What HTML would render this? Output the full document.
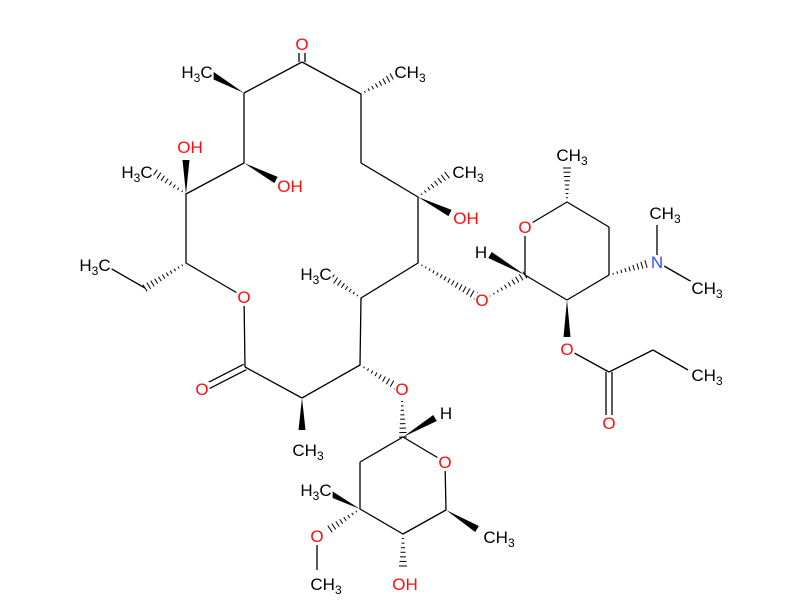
<!DOCTYPE html>
<html><head><meta charset="utf-8"><style>
html,body{margin:0;padding:0;background:#fff;}
svg{display:block;}
text{font-family:"Liberation Sans",sans-serif;font-size:17px;text-anchor:middle;}
.r{fill:#ff0d0d}.b{fill:#3050f8}.k{fill:#000}
</style></head><body>
<svg id="s" width="800" height="600" viewBox="0 0 800 600" xmlns="http://www.w3.org/2000/svg"></svg>
<script>
const s=document.getElementById('s');const NS='http://www.w3.org/2000/svg';
function el(t,a,txt){const e=document.createElementNS(NS,t);for(const k in a)e.setAttribute(k,a[k]);if(txt!=null)e.innerHTML=txt;s.appendChild(e);return e;}
function L(a,b){el('line',{x1:a[0],y1:a[1],x2:b[0],y2:b[1],stroke:'#000','stroke-width':1.3});}
function D(a,b,off){const dx=b[0]-a[0],dy=b[1]-a[1],l=Math.hypot(dx,dy),nx=-dy/l*off,ny=dx/l*off;
 el('line',{x1:a[0]+nx,y1:a[1]+ny,x2:b[0]+nx,y2:b[1]+ny,stroke:'#000','stroke-width':1.3});
 el('line',{x1:a[0]-nx,y1:a[1]-ny,x2:b[0]-nx,y2:b[1]-ny,stroke:'#000','stroke-width':1.3});}
function W(a,b){const dx=b[0]-a[0],dy=b[1]-a[1],l=Math.hypot(dx,dy),nx=-dy/l*3.5,ny=dx/l*3.5;
 el('polygon',{points:`${a[0]},${a[1]} ${b[0]+nx},${b[1]+ny} ${b[0]-nx},${b[1]-ny}`,fill:'#000'});}
function H(a,b){const dx=b[0]-a[0],dy=b[1]-a[1],l=Math.hypot(dx,dy),ux=-dy/l,uy=dx/l;const n=Math.max(4,Math.round(l/4.5));
 for(let i=0;i<=n;i++){const t=i/n,w=0.5+3.5*t,x=a[0]+dx*t,y=a[1]+dy*t;
 el('line',{x1:x+ux*w,y1:y+uy*w,x2:x-ux*w,y2:y-uy*w,stroke:'#000','stroke-width':1});}}
const T=[];function X(x,y,h,c){T.push([x,y,h,c||'k']);}
const sub='<tspan font-size="12" dy="4">3</tspan>';
const CH3='CH'+sub, H3C='H'+sub+'<tspan dy="-4">C</tspan>';
const K=[302,62],A1=[244,93],A2=[361,94],A3=[244,163],A4=[186,194],A5=[186,263],Or=[244,297],A6=[361,163],A7=[418,197],A8=[418,263],A9=[361,298],A10=[360,365],Lc=[245,367],A11=[302,398];
D(K,[302,38],3);L(K,A1);L(K,A2);L(A1,A3);L(A3,A4);L(A4,A5);L(A5,Or);L(Or,Lc);L(Lc,A11);L(A11,A10);L(A10,A9);L(A9,A8);L(A8,A7);L(A7,A6);L(A6,A2);
D(Lc,[202,389],3);
W(A1,[212,75]);H(A2,[392,77]);W(A3,[276,180]);W(A4,[186,160]);H(A4,[155,173]);H(A5,[145,288]);L([145,288],[110,268]);
H(A7,[447,175]);W(A7,[450,213]);H(A8,[476,296]);H(A9,[332,278]);H(A10,[396,386]);W(A11,[302,430]);
X(302,50,'O','r');X(197,78,H3C);X(410,78,CH3);X(290,192,'OH','r');X(190,153,'OH','r');X(137,178,H3C);X(95,271,H3C);
X(244,303,'O','r');X(468,178,CH3);X(466,224,'OH','r');X(482,306,'O','r');X(316,280,H3C);X(202,395,'O','r');X(402,395,'O','r');X(308,456,CH3);
const B1=[403,437],Ob=[445,462],B5=[446,510],B4=[403,534],B3=[360,509],B2=[360,462],Om=[317,536];
H([402,397],B1);L(B1,Ob);L(Ob,B5);L(B5,B4);L(B4,B3);L(B3,B2);L(B2,B1);
W(B1,[435,418]);W(B5,[477,529]);H(B4,[403,566]);W(B3,[327,492]);H(B3,[330,529]);L(Om,[317,570]);
X(446,419,'H');X(445,468,'O','r');X(499,543,CH3);X(405,590,'OH','r');X(316,496,H3C);X(317,542,'O','r');X(326,590,CH3);
const D1=[525,275],Od=[525,227],D5=[567,202],D4=[609,227],D3=[609,275],D2=[567,300],N=[657,262],Oe=[567,349],Ce=[609,372],C2=[653,350];
H([490,296],D1);L(D1,Od);L(Od,D5);L(D5,D4);L(D4,D3);L(D3,D2);L(D2,D1);
W(D1,[490,255]);H(D5,[567,168]);H(D3,[646,264]);L(N,[657,222]);L(N,[692,282]);W(D2,[567,337]);L(Oe,Ce);D(Ce,[609,415],3);L(Ce,C2);L(C2,[688,370]);
X(481,258,'H');X(525,233,'O','r');X(572,161,CH3);X(657,268,'N','b');X(665,219,CH3);X(707,294,CH3);X(567,355,'O','r');X(609,429,'O','r');X(707,381,CH3);
for(const [x,y,h,c] of T){const t=el('text',{x:x,y:y,class:c},h);const bb=t.getBBox();
 const r=document.createElementNS(NS,'rect');r.setAttribute('x',bb.x-1);r.setAttribute('y',bb.y+2);r.setAttribute('width',bb.width+2);r.setAttribute('height',bb.height-3);r.setAttribute('fill','#fff');s.insertBefore(r,t);}
</script>
</body></html>
